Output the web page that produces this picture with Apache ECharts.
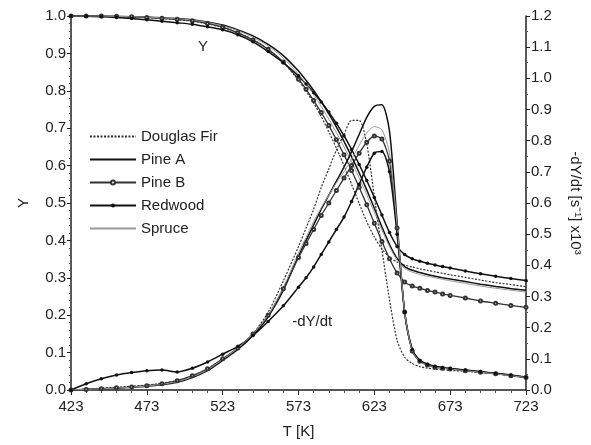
<!DOCTYPE html>
<html>
<head>
<meta charset="utf-8">
<script src="https://cdn.jsdelivr.net/npm/echarts@6/dist/echarts.min.js"></script>
<style>
  html, body { margin: 0; padding: 0; background: #fff; }
  #chart { width: 591px; height: 445px; }
</style>
</head>
<body>
<div id="chart"></div>
<script>
// temperatures [K]
const T = [423, 433, 443, 453, 463, 473, 483, 493, 503, 513, 523, 533, 543, 553, 563, 573,
  578, 583, 588, 593, 598, 603, 608, 613, 618, 623, 628, 633, 638, 643, 648, 653, 658, 663, 668, 673,
  683, 693, 703, 713, 723]

// Y (left axis)
const yDouglasFir = [1.0, 1.0, 0.999, 0.998, 0.997, 0.996, 0.993, 0.990, 0.986, 0.979, 0.969, 0.955, 0.937, 0.911, 0.876, 0.828,
  0.799, 0.767, 0.731, 0.690, 0.647, 0.600, 0.550, 0.499, 0.450, 0.409, 0.377, 0.355, 0.342, 0.334, 0.329, 0.324, 0.320, 0.316, 0.312, 0.308,
  0.301, 0.294, 0.287, 0.282, 0.276]
const yPineA = [1.0, 1.0, 1.0, 0.999, 0.998, 0.997, 0.995, 0.993, 0.990, 0.984, 0.976, 0.963, 0.947, 0.924, 0.894, 0.853,
  0.828, 0.801, 0.771, 0.738, 0.703, 0.665, 0.624, 0.581, 0.535, 0.486, 0.436, 0.389, 0.352, 0.330, 0.320, 0.314, 0.309, 0.304, 0.300, 0.297,
  0.290, 0.283, 0.277, 0.271, 0.267]
const yPineB = [1.0, 1.0, 1.0, 0.999, 0.998, 0.996, 0.994, 0.991, 0.987, 0.980, 0.970, 0.955, 0.936, 0.911, 0.877, 0.831,
  0.804, 0.774, 0.742, 0.707, 0.669, 0.629, 0.587, 0.542, 0.495, 0.446, 0.397, 0.351, 0.313, 0.289, 0.278, 0.272, 0.266, 0.262, 0.257, 0.253,
  0.246, 0.238, 0.232, 0.226, 0.221]
const yRedwood = [1.0, 0.999, 0.998, 0.996, 0.993, 0.990, 0.986, 0.982, 0.978, 0.971, 0.963, 0.950, 0.931, 0.905, 0.875, 0.840,
  0.818, 0.795, 0.770, 0.743, 0.713, 0.680, 0.643, 0.603, 0.560, 0.515, 0.468, 0.421, 0.384, 0.362, 0.351, 0.344, 0.339, 0.334, 0.330, 0.326,
  0.318, 0.311, 0.304, 0.298, 0.293]
const ySpruce = [1.0, 1.0, 1.0, 0.999, 0.998, 0.997, 0.995, 0.993, 0.989, 0.983, 0.974, 0.961, 0.943, 0.920, 0.888, 0.844,
  0.818, 0.790, 0.758, 0.724, 0.688, 0.650, 0.610, 0.567, 0.522, 0.475, 0.428, 0.383, 0.347, 0.325, 0.315, 0.309, 0.304, 0.300, 0.296, 0.292,
  0.285, 0.278, 0.272, 0.267, 0.262]

// -dY/dt x10^3 (right axis)
const rDouglasFir = [0, 0.003, 0.006, 0.009, 0.012, 0.016, 0.022, 0.03, 0.045, 0.068, 0.1, 0.135, 0.18, 0.25, 0.35, 0.46,
  0.52, 0.58, 0.65, 0.71, 0.77, 0.82, 0.865, 0.865, 0.79, 0.62, 0.45, 0.29, 0.16, 0.105, 0.085, 0.075, 0.07, 0.067, 0.065, 0.063,
  0.06, 0.056, 0.052, 0.047, 0.04]
const rPineA = [0, 0.002, 0.004, 0.006, 0.009, 0.012, 0.017, 0.025, 0.04, 0.062, 0.095, 0.13, 0.175, 0.235, 0.32, 0.43,
  0.48, 0.53, 0.58, 0.625, 0.67, 0.715, 0.765, 0.82, 0.875, 0.91, 0.915, 0.83, 0.54, 0.25, 0.13, 0.095, 0.082, 0.075, 0.071, 0.068,
  0.063, 0.058, 0.053, 0.047, 0.04]
const rPineB = [0, 0.002, 0.004, 0.007, 0.01, 0.014, 0.02, 0.03, 0.046, 0.068, 0.1, 0.135, 0.18, 0.24, 0.325, 0.425,
  0.47, 0.515, 0.56, 0.60, 0.64, 0.68, 0.72, 0.76, 0.795, 0.815, 0.805, 0.735, 0.52, 0.25, 0.125, 0.092, 0.08, 0.073, 0.07, 0.067,
  0.062, 0.057, 0.052, 0.046, 0.04]
const rRedwood = [0, 0.02, 0.036, 0.048, 0.056, 0.062, 0.064, 0.058, 0.07, 0.09, 0.115, 0.14, 0.175, 0.22, 0.27, 0.33,
  0.36, 0.395, 0.435, 0.475, 0.515, 0.555, 0.605, 0.66, 0.715, 0.76, 0.765, 0.70, 0.50, 0.25, 0.13, 0.095, 0.083, 0.076, 0.072, 0.069,
  0.064, 0.059, 0.054, 0.048, 0.042]
const rSpruce = [0, 0.002, 0.004, 0.006, 0.009, 0.013, 0.018, 0.027, 0.042, 0.065, 0.098, 0.135, 0.18, 0.24, 0.33, 0.44,
  0.49, 0.54, 0.585, 0.625, 0.665, 0.70, 0.74, 0.785, 0.825, 0.845, 0.835, 0.76, 0.53, 0.25, 0.125, 0.092, 0.08, 0.073, 0.07, 0.067,
  0.062, 0.057, 0.052, 0.046, 0.04]

const woods = ['Douglas Fir', 'Pine A', 'Pine B', 'Redwood', 'Spruce']
const yData = [yDouglasFir, yPineA, yPineB, yRedwood, ySpruce]
const rData = [rDouglasFir, rPineA, rPineB, rRedwood, rSpruce]

// look of each wood
const looks = {
  'Douglas Fir': { color: '#333', width: 1.2, type: [2, 1.5], symbol: 'none', size: 0 },
  'Pine A': { color: '#111', width: 1.5, type: 'solid', symbol: 'none', size: 0 },
  'Pine B': { color: '#333', width: 1.3, type: 'solid', symbol: 'emptyCircle', size: 3 },
  'Redwood': { color: '#111', width: 1.5, type: 'solid', symbol: 'circle', size: 3.5 },
  'Spruce': { color: '#999', width: 1, type: 'solid', symbol: 'none', size: 0 }
}

let pairs = function(vals) {
  return T.map((t, i) => [t, vals[i]])
}

let makeSeries = function(name, vals, axis) {
  let lk = looks[name]
  return {
    name: name,
    type: 'line',
    yAxisIndex: axis,
    data: pairs(vals),
    smooth: 0.25,
    symbol: lk.symbol,
    symbolSize: lk.size,
    showAllSymbol: true,
    lineStyle: { color: lk.color, width: lk.width, type: lk.type },
    itemStyle: { color: lk.color, borderWidth: 1 },
    emphasis: { disabled: true }
  }
}

let series = []
woods.forEach((w, i) => series.push(makeSeries(w, yData[i], 0)))
woods.forEach((w, i) => series.push(makeSeries(w, rData[i], 1)))

// text notes inside the plot
series[1].markPoint = {
  silent: true,
  symbol: 'circle',
  symbolSize: 1,
  itemStyle: { color: 'rgba(0,0,0,0)' },
  label: { show: true, position: 'inside', fontSize: 15, color: '#222' },
  data: [
    { coord: [510, 0.917], label: { formatter: 'Y' } },
    { coord: [582, 0.182], label: { formatter: '-dY/dt' } }
  ]
}

const font = 'Liberation Sans, Arial, sans-serif'
const ink = '#222'

let yAxisBase = function(max, pos, minorSplit) {
  return {
    type: 'value',
    position: pos,
    min: 0,
    max: max,
    interval: 0.1,
    axisLine: { show: true, lineStyle: { color: ink, width: 1.5 } },
    axisTick: { show: true, length: 4, lineStyle: { color: ink } },
    minorTick: { show: true, splitNumber: minorSplit, length: 2, lineStyle: { color: '#555' } },
    splitLine: { show: false },
    axisLabel: { fontSize: 15, color: ink, margin: 5, formatter: v => v.toFixed(1) }
  }
}

let leftAxis = yAxisBase(1.0, 'left', 5)
leftAxis.name = 'Y'
leftAxis.nameLocation = 'middle'
leftAxis.nameGap = 40
leftAxis.nameTextStyle = { fontSize: 15, color: ink }

let rightAxis = yAxisBase(1.2, 'right', 2)
rightAxis.name = '-dY/dt [s\u207B\u00B9] x10\u00B3'
rightAxis.nameLocation = 'middle'
rightAxis.nameRotate = -90
rightAxis.nameGap = 42
rightAxis.nameTextStyle = { fontSize: 15, color: ink }

// legend entries: hide the dot for woods drawn without markers
let legendData = woods.map(w => {
  let item = { name: w }
  if (looks[w].symbol === 'none') item.itemStyle = { opacity: 0 }
  return item
})

const option = {
  animation: false,
  backgroundColor: '#fff',
  textStyle: { fontFamily: font },
  grid: { left: 71, right: 65, top: 16, bottom: 55 },
  legend: {
    data: legendData,
    orient: 'vertical',
    left: 84,
    top: 124,
    itemWidth: 46,
    itemHeight: 5,
    itemGap: 8,
    selectedMode: false,
    textStyle: { fontSize: 15, color: ink, fontFamily: font }
  },
  xAxis: {
    type: 'value',
    min: 423,
    max: 723,
    interval: 50,
    name: 'T [K]',
    nameLocation: 'middle',
    nameGap: 34,
    nameTextStyle: { fontSize: 15, color: ink },
    axisLine: { lineStyle: { color: ink, width: 1.5 } },
    axisTick: { length: 5, lineStyle: { color: ink } },
    minorTick: { show: true, splitNumber: 5, length: 3, lineStyle: { color: '#555' } },
    splitLine: { show: false },
    axisLabel: { fontSize: 15, color: ink, margin: 9 }
  },
  yAxis: [leftAxis, rightAxis],
  series: series
}

let chart = echarts.init(document.getElementById('chart'), null, { renderer: 'canvas' })
chart.setOption(option)
</script>
</body>
</html>
